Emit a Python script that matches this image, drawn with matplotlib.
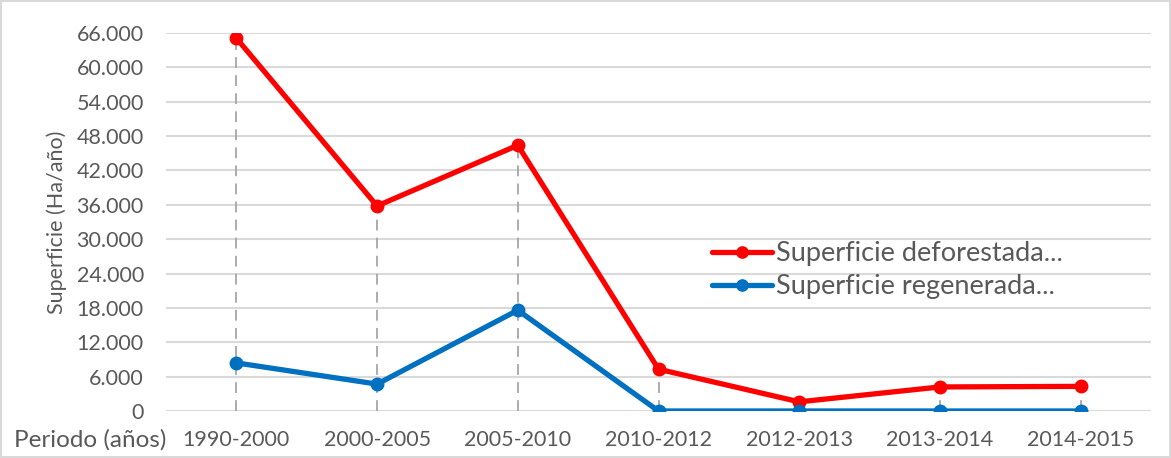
import matplotlib.pyplot as plt
from matplotlib.ticker import FuncFormatter, MultipleLocator

# Periods and surface values (Ha/año)
periodos = ["1990-2000", "2000-2005", "2005-2010", "2010-2012",
            "2012-2013", "2013-2014", "2014-2015"]
deforestada = [65100, 35800, 46400, 7300, 1600, 4200, 4300]
regenerada = [8400, 4700, 17600, 0, 0, 0, 0]

TEXT_GREY = "#595959"
RED = "#ff0000"
BLUE = "#0070c0"

plt.rcParams['font.family'] = ['Lato', 'DejaVu Sans']

fig = plt.figure(figsize=(11.71, 4.58), dpi=100)
fig.patch.set_facecolor("white")
fig.patch.set_edgecolor("#d9d9d9")
fig.patch.set_linewidth(1.5)

ax = fig.add_axes([166 / 1171, 1 - 411 / 458, (1151 - 166) / 1171, (411 - 33) / 458])
x = list(range(len(periodos)))

# drop lines from the deforestation points down to zero
ax.vlines(x, 0, deforestada, colors="#a6a6a6", linestyles=(0, (6, 4)),
          linewidth=1.3, zorder=1)

ax.plot(x, deforestada, color=RED, linewidth=3.8, marker="o", markersize=9,
        label="Superficie deforestada...", zorder=3, solid_capstyle="round")
ax.plot(x, regenerada, color=BLUE, linewidth=3.8, marker="o", markersize=9,
        label="Superficie regenerada...", zorder=3, solid_capstyle="round")

ax.set_xlim(-0.5, len(periodos) - 0.5)
ax.set_ylim(0, 66000)
ax.yaxis.set_major_locator(MultipleLocator(6000))
ax.yaxis.set_major_formatter(FuncFormatter(lambda v, p: f"{int(v):,}".replace(",", ".")))
ax.set_xticks(x)
ax.set_xticklabels(periodos)

ax.grid(axis="y", color="#d9d9d9", linewidth=1.5, zorder=0)
ax.set_axisbelow(True)
for s in ax.spines.values():
    s.set_visible(False)
ax.tick_params(axis="both", length=0, labelcolor=TEXT_GREY)
ax.tick_params(axis="x", labelsize=15.5, pad=14)
ax.tick_params(axis="y", labelsize=15.5, pad=16)

ax.set_ylabel("Superficie (Ha/año)", fontsize=15.5, color=TEXT_GREY, labelpad=7)
fig.text(14 / 1171, 1 - 440 / 458, "Periodo (años)", fontsize=17.5,
         color=TEXT_GREY, va="center", ha="left")

leg = ax.legend(loc="upper left", bbox_to_anchor=(712 / 1171, 1 - 241 / 458),
                bbox_transform=fig.transFigure, frameon=False, fontsize=19.5,
                handlelength=2.2, handletextpad=0.15, labelspacing=0.3,
                borderpad=0, borderaxespad=0, markerscale=0.9)
for t in leg.get_texts():
    t.set_color(TEXT_GREY)

fig.savefig("out.png", dpi=100)
